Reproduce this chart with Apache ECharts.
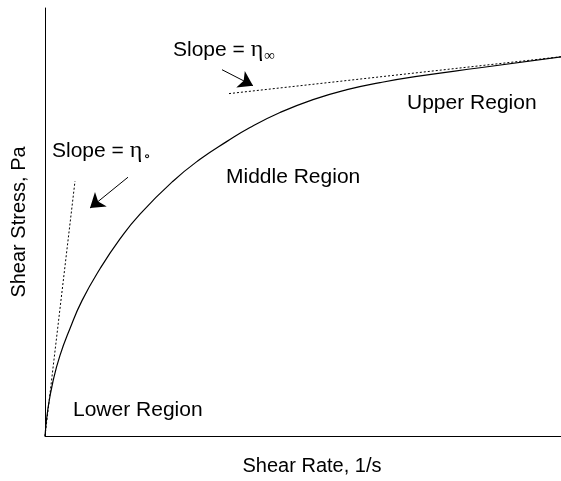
<!DOCTYPE html>
<html>
<head>
<meta charset="utf-8">
<script src="https://cdn.jsdelivr.net/npm/echarts@6/dist/echarts.min.js"></script>
<style>
	html, body { margin: 0; padding: 0; background: #fff; }
	#chart { width: 561px; height: 481px; }
</style>
</head>
<body>
<div id="chart"></div>
<script>
// flow curve (arbitrary units)
var shearRate = [0, 3, 8, 15, 25, 37, 55, 75, 95, 128, 155, 182, 205, 235, 268, 302, 335, 370, 435, 516]
var shearStress = [0, 28, 55, 81, 108, 136, 168, 198, 223, 256, 278, 296, 310, 325, 338, 348, 355, 361, 370, 381]

// tangent at origin (zero shear viscosity) and upper asymptote
var lowerTangent = [[0, 0], [30, 256]]
var upperTangent = [[184, 344], [516, 381]]

// arrows pointing to the two tangents [from, to]
var arrowUpper = [[177, 368], [208, 352]]
var arrowLower = [[83, 260], [45, 229]]

var xMax = 516
var yMax = 430

var chart = echarts.init(document.getElementById('chart'))
var font = 'Liberation Sans, Arial, sans-serif'
var etaFont = 'Liberation Serif, DejaVu Serif, serif'

function slopeText(left, top, sub) {
	return {
		type: 'text',
		left: left,
		top: top,
		style: {
			text: 'Slope = {eta|η}{sub|' + sub + '}',
			fill: '#000',
			font: '21px ' + font,
			rich: {
				eta: { fontFamily: etaFont, fontSize: 24, fill: '#000' },
				sub: { fontFamily: etaFont, fontSize: 15, fill: '#000', padding: [12, 0, 0, 1] }
			}
		}
	}
}

function plainText(left, top, txt) {
	return {
		type: 'text',
		left: left,
		top: top,
		style: { text: txt, fill: '#000', font: '21px ' + font }
	}
}

chart.setOption({
	animation: false,
	backgroundColor: '#fff',
	grid: { left: 45, right: 0, top: 8, bottom: 43 },
	xAxis: {
		type: 'value',
		min: 0,
		max: xMax,
		name: 'Shear Rate, 1/s',
		nameLocation: 'middle',
		nameGap: 20,
		nameTextStyle: { color: '#000', fontSize: 20, fontFamily: font, padding: [0, 0, 0, 18] },
		axisLine: { show: true, lineStyle: { color: '#000', width: 1 } },
		axisTick: { show: false },
		axisLabel: { show: false },
		splitLine: { show: false }
	},
	yAxis: {
		type: 'value',
		min: 0,
		max: yMax,
		name: 'Shear Stress, Pa',
		nameLocation: 'middle',
		nameGap: 16,
		nameTextStyle: { color: '#000', fontSize: 20, fontFamily: font },
		axisLine: { show: true, lineStyle: { color: '#000', width: 1 } },
		axisTick: { show: false },
		axisLabel: { show: false },
		splitLine: { show: false }
	},
	series: [
		{
			type: 'line',
			smooth: 0.5,
			symbol: 'none',
			lineStyle: { color: '#000', width: 1.2 },
			data: shearRate.map(function (x, i) { return [x, shearStress[i]] })
		},
		{
			type: 'line',
			symbol: 'none',
			lineStyle: { color: '#000', width: 1, type: [2, 2] },
			data: lowerTangent
		},
		{
			type: 'line',
			symbol: 'none',
			lineStyle: { color: '#000', width: 1, type: [2, 2] },
			data: upperTangent
		},
		{
			type: 'lines',
			coordinateSystem: 'cartesian2d',
			symbol: ['none', 'arrow'],
			symbolSize: 14,
			lineStyle: { color: '#000', width: 1, opacity: 1 },
			data: [{ coords: arrowUpper }, { coords: arrowLower }]
		}
	],
	graphic: [
		slopeText(173, 38, '∞'),
		slopeText(52, 139, '∘'),
		plainText(226, 167, 'Middle Region'),
		plainText(407, 93, 'Upper Region'),
		plainText(73, 400, 'Lower Region')
	]
})
</script>
</body>
</html>
